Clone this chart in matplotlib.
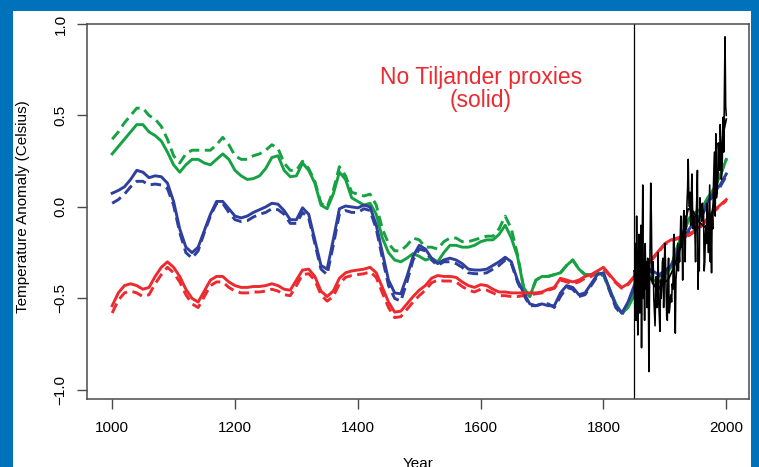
import numpy as np
import matplotlib
matplotlib.use("Agg")
import matplotlib.pyplot as plt
from matplotlib.patches import Rectangle

plt.rcParams['font.family'] = ['Liberation Sans', 'DejaVu Sans']

# ---------------- data ----------------
years = list(range(1000, 2001, 10))

green_solid = [0.29, 0.33, 0.37, 0.41, 0.45, 0.45, 0.41, 0.39, 0.36, 0.30,
               0.23, 0.19, 0.23, 0.26, 0.26, 0.24, 0.23, 0.26, 0.29, 0.26,
               0.20, 0.17, 0.15, 0.155, 0.17, 0.21, 0.27, 0.28, 0.20, 0.165,
               0.17, 0.24, 0.20, 0.13, 0.01, -0.01, 0.07, 0.19, 0.15, 0.05,
               0.03, 0.01, 0.02, -0.04, -0.17, -0.25, -0.29, -0.30, -0.28, -0.255,
               -0.27, -0.29, -0.28, -0.30, -0.25, -0.21, -0.21, -0.22, -0.22, -0.21,
               -0.19, -0.18, -0.18, -0.15, -0.10, -0.17, -0.27, -0.44, -0.49, -0.40,
               -0.38, -0.38, -0.37, -0.36, -0.32, -0.29, -0.34, -0.37, -0.37, -0.36,
               -0.37, -0.45, -0.53, -0.58, -0.55, -0.48, -0.38, -0.36, -0.40, -0.41,
               -0.37, -0.33, -0.22, -0.14, -0.06, -0.03, -0.01, 0.05, 0.10, 0.17,
               0.26]

green_dashed = [0.37, 0.41, 0.46, 0.50, 0.54, 0.54, 0.50, 0.48, 0.44, 0.37,
                0.28, 0.24, 0.29, 0.31, 0.31, 0.31, 0.31, 0.34, 0.38, 0.34,
                0.28, 0.26, 0.26, 0.28, 0.29, 0.31, 0.34, 0.32, 0.24, 0.20,
                0.20, 0.25, 0.21, 0.14, 0.02, 0.00, 0.09, 0.22, 0.17, 0.08,
                0.07, 0.06, 0.07, 0.01, -0.12, -0.20, -0.24, -0.24, -0.21, -0.17,
                -0.18, -0.22, -0.22, -0.23, -0.19, -0.17, -0.17, -0.19, -0.19, -0.18,
                -0.17, -0.16, -0.16, -0.12, -0.05, -0.12, -0.26, -0.44, -0.49, -0.40,
                -0.38, -0.38, -0.37, -0.36, -0.32, -0.29, -0.34, -0.37, -0.37, -0.36,
                -0.37, -0.45, -0.53, -0.58, -0.55, -0.48, -0.38, -0.36, -0.40, -0.41,
                -0.37, -0.33, -0.22, -0.14, -0.06, -0.03, -0.01, 0.05, 0.10, 0.17,
                0.26]

blue_solid = [0.075, 0.09, 0.11, 0.15, 0.20, 0.19, 0.16, 0.17, 0.165, 0.13,
              0.03, -0.12, -0.22, -0.25, -0.22, -0.13, -0.04, 0.03, 0.03, -0.01,
              -0.05, -0.06, -0.05, -0.03, -0.015, 0.00, 0.02, 0.015, -0.02, -0.07,
              -0.07, -0.005, -0.04, -0.18, -0.32, -0.34, -0.18, -0.01, 0.005, 0.00,
              -0.005, 0.01, 0.00, -0.10, -0.25, -0.40, -0.47, -0.475, -0.38, -0.27,
              -0.21, -0.23, -0.28, -0.31, -0.29, -0.28, -0.29, -0.31, -0.34, -0.345,
              -0.345, -0.34, -0.32, -0.30, -0.275, -0.30, -0.40, -0.47, -0.53, -0.54,
              -0.53, -0.54, -0.54, -0.47, -0.43, -0.44, -0.48, -0.47, -0.42, -0.37,
              -0.36, -0.45, -0.54, -0.58, -0.52, -0.43, -0.36, -0.33, -0.35, -0.37,
              -0.35, -0.32, -0.25, -0.17, -0.12, -0.07, -0.04, 0.03, 0.08, 0.12,
              0.18]

blue_dashed = [0.02, 0.04, 0.07, 0.11, 0.14, 0.14, 0.12, 0.125, 0.12, 0.10,
               0.01, -0.14, -0.25, -0.28, -0.24, -0.14, -0.05, 0.02, 0.02, -0.03,
               -0.07, -0.08, -0.075, -0.055, -0.04, -0.03, -0.01, -0.015, -0.04, -0.09,
               -0.09, -0.03, -0.06, -0.20, -0.34, -0.37, -0.21, -0.04, -0.02, -0.03,
               -0.03, -0.01, -0.02, -0.12, -0.28, -0.43, -0.50, -0.515, -0.41, -0.29,
               -0.23, -0.24, -0.29, -0.32, -0.30, -0.30, -0.31, -0.33, -0.36, -0.365,
               -0.365, -0.36, -0.34, -0.32, -0.29, -0.31, -0.41, -0.48, -0.54, -0.54,
               -0.53, -0.53, -0.55, -0.49, -0.44, -0.45, -0.49, -0.48, -0.43, -0.38,
               -0.37, -0.46, -0.55, -0.59, -0.53, -0.44, -0.37, -0.34, -0.36, -0.38,
               -0.36, -0.33, -0.26, -0.18, -0.13, -0.08, -0.05, 0.02, 0.07, 0.11,
               0.17]

red_solid = [-0.54, -0.47, -0.43, -0.42, -0.43, -0.45, -0.44, -0.38, -0.33, -0.30,
             -0.33, -0.38, -0.45, -0.50, -0.52, -0.46, -0.40, -0.38, -0.38, -0.41,
             -0.43, -0.44, -0.44, -0.435, -0.435, -0.43, -0.42, -0.43, -0.45, -0.455,
             -0.40, -0.345, -0.34, -0.38, -0.46, -0.49, -0.46, -0.39, -0.36, -0.35,
             -0.345, -0.34, -0.33, -0.36, -0.44, -0.52, -0.575, -0.57, -0.53, -0.49,
             -0.455, -0.43, -0.39, -0.375, -0.38, -0.38, -0.385, -0.41, -0.43, -0.44,
             -0.425, -0.43, -0.45, -0.465, -0.465, -0.47, -0.47, -0.47, -0.47, -0.47,
             -0.465, -0.45, -0.44, -0.39, -0.40, -0.41, -0.40, -0.38, -0.37, -0.35,
             -0.33, -0.37, -0.41, -0.44, -0.42, -0.38, -0.35, -0.32, -0.28, -0.24,
             -0.20, -0.18, -0.17, -0.16, -0.15, -0.125, -0.10, -0.06, -0.02, 0.01,
             0.04]

red_dashed = [-0.58, -0.51, -0.47, -0.46, -0.47, -0.49, -0.48, -0.42, -0.37, -0.33,
              -0.36, -0.41, -0.48, -0.53, -0.55, -0.49, -0.43, -0.41, -0.41, -0.44,
              -0.46, -0.47, -0.47, -0.465, -0.465, -0.46, -0.45, -0.46, -0.48, -0.485,
              -0.43, -0.37, -0.365, -0.40, -0.48, -0.515, -0.49, -0.42, -0.385, -0.375,
              -0.37, -0.365, -0.355, -0.385, -0.47, -0.55, -0.605, -0.60, -0.56, -0.52,
              -0.485, -0.455, -0.415, -0.40, -0.405, -0.405, -0.41, -0.435, -0.455, -0.465,
              -0.45, -0.455, -0.47, -0.485, -0.485, -0.49, -0.49, -0.485, -0.48, -0.475,
              -0.47, -0.455, -0.445, -0.40, -0.41, -0.42, -0.41, -0.39, -0.38, -0.36,
              -0.34, -0.375, -0.415, -0.445, -0.425, -0.385, -0.355, -0.325, -0.285, -0.245,
              -0.205, -0.185, -0.175, -0.165, -0.155, -0.13, -0.105, -0.065, -0.025, 0.005,
              0.035]

inst_years = list(range(1850, 2001))
inst_values = [-0.35, -0.55, -0.20, -0.62, -0.05, -0.48, -0.70, -0.30, -0.15, -0.58,
               -0.40, -0.10, -0.77, -0.25, 0.12, -0.50, -0.35, -0.62, -0.20, -0.45,
               -0.30, -0.55, -0.28, -0.40, -0.90, -0.45, -0.20, 0.13, -0.05, -0.38,
               -0.42, -0.30, -0.50, -0.58, -0.65, -0.48, -0.38, -0.55, -0.45, -0.25,
               -0.52, -0.60, -0.68, -0.40, -0.50, -0.42, -0.30, -0.28, -0.55, -0.35,
               -0.20, -0.30, -0.45, -0.60, -0.62, -0.40, -0.28, -0.58, -0.55, -0.50,
               -0.48, -0.52, -0.42, -0.45, -0.20, -0.15, -0.50, -0.69, -0.40, -0.35,
               -0.28, -0.20, -0.35, -0.25, -0.30, -0.18, -0.05, -0.22, -0.15, -0.40,
               -0.08, -0.02, -0.10, -0.30, -0.05, -0.12, 0.02, 0.10, 0.26, 0.05,
               0.00, 0.08, -0.10, 0.02, 0.18, 0.00, -0.12, -0.05, -0.10, -0.15,
               -0.30, -0.05, 0.05, 0.20, -0.45, -0.25, -0.35, 0.05, 0.00, -0.02,
               -0.08, 0.02, -0.05, -0.02, -0.35, -0.30, -0.15, -0.10, -0.20, 0.02,
               -0.10, -0.25, -0.05, 0.12, -0.30, -0.10, -0.36, -0.05, -0.12, 0.10,
               0.22, 0.30, -0.05, 0.40, 0.05, 0.08, 0.15, 0.35, 0.30, 0.20,
               0.45, 0.38, 0.15, 0.20, 0.32, 0.49, 0.30, 0.65, 0.93, 0.55,
               0.50]

smooth_years = [1850, 1860, 1870, 1880, 1888, 1895, 1905, 1915, 1925, 1932, 1938,
                1945, 1955, 1965, 1972, 1980, 1988, 1995, 2000]
smooth_values = [-0.35, -0.33, -0.36, -0.41, -0.46, -0.42, -0.40, -0.33, -0.22, -0.10, -0.01,
                 -0.02, -0.08, -0.11, -0.12, 0.03, 0.22, 0.40, 0.48]

x_ticks = [1000, 1200, 1400, 1600, 1800, 2000]
y_ticks = [-1.0, -0.5, 0.0, 0.5, 1.0]
y_tick_labels = ["\u22121.0", "\u22120.5", "0.0", "0.5", "1.0"]

annotation = ["No Tiljander proxies", "(solid)"]

# ---------------- styles ----------------
GREEN = "#16a243"
BLUE = "#2e3f9e"
RED = "#ec2a2f"
FRAME = "#0072bb"
AXC = "#4a4a4a"

fig = plt.figure(figsize=(7.59, 4.67), dpi=100)
fig.patch.set_facecolor(FRAME)
fig.patches.append(Rectangle((13 / 759, 0), (751 - 13) / 759, 1 - 11 / 467,
                             transform=fig.transFigure, facecolor="white",
                             edgecolor="none", zorder=-10))

ax = fig.add_axes([87 / 759, 1 - 399 / 467, (749 - 87) / 759, (399 - 24) / 467])
ax.set_facecolor("white")
ax.set_zorder(5)

lw = 2.1
dash = (3.6, 1.9)
ax.plot(years, green_dashed, color=GREEN, lw=lw, dashes=dash)
ax.plot(years, blue_dashed, color=BLUE, lw=lw, dashes=dash)
ax.plot(years, red_dashed, color=RED, lw=lw, dashes=dash)
ax.plot(years, green_solid, color=GREEN, lw=lw)
ax.plot(years, blue_solid, color=BLUE, lw=lw)
ax.plot(years, red_solid, color=RED, lw=lw)

ax.plot(inst_years, inst_values, color="black", lw=1.15)
ax.plot(smooth_years, smooth_values, color="black", lw=1.3)

ax.axvline(1850, color="black", lw=0.9)

ax.set_xlim(959, 2037)
ax.set_ylim(-1.05, 1.0)

ax.set_xticks(x_ticks)
ax.set_xticklabels([str(v) for v in x_ticks])
ax.set_yticks(y_ticks)
ax.set_yticklabels(y_tick_labels, rotation=90, va="center")

ax.tick_params(axis="both", direction="out", length=7, width=1.0, colors=AXC,
               labelcolor="black", labelsize=11)
ax.tick_params(axis="x", pad=9)
ax.tick_params(axis="y", pad=7)
for s in ax.spines.values():
    s.set_color(AXC)
    s.set_linewidth(1.1)

ax.text(1600, 0.67, annotation[0], color=RED, fontsize=16.5, ha="center", va="baseline")
ax.text(1600, 0.545, annotation[1], color=RED, fontsize=16.5, ha="center", va="baseline")

fig.text(23 / 759, 1 - 207 / 467, "Temperature Anomaly (Celsius)", rotation=90,
         ha="center", va="center", fontsize=11)
fig.text(418 / 759, 1 - 457 / 467, "Year", ha="center", va="top", fontsize=11)

fig.savefig("out.png", dpi=100, facecolor=fig.get_facecolor())
